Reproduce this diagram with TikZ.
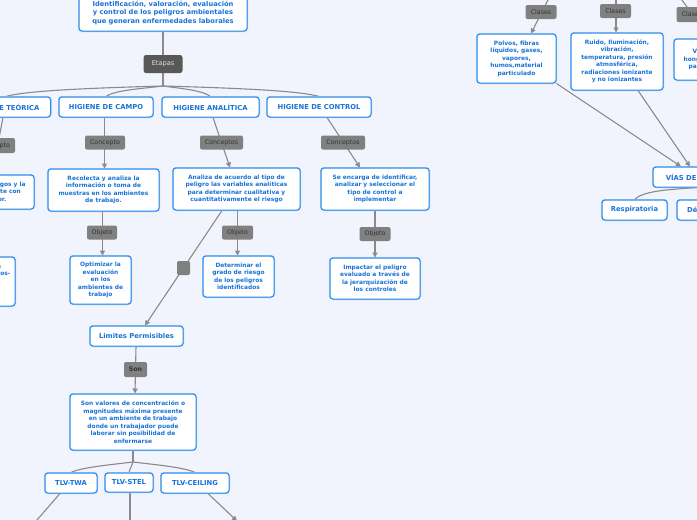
\documentclass[tikz,border=0pt]{standalone}
\usepackage{fontspec}
\setmainfont{DejaVu Sans}
\usetikzlibrary{arrows.meta}
\definecolor{bgc}{RGB}{242,244,253}
\definecolor{bord}{RGB}{45,140,235}
\definecolor{bordlt}{RGB}{150,196,245}
\definecolor{txb}{RGB}{25,115,215}
\definecolor{lnc}{RGB}{138,138,138}
\definecolor{lblf}{RGB}{128,128,128}
\definecolor{lblt}{RGB}{50,50,50}
\definecolor{darkf}{RGB}{88,88,88}
\definecolor{darkt}{RGB}{225,225,225}
\pgfdeclarelayer{back}
\pgfdeclarelayer{bg}
\pgfsetlayers{back,bg,main}
\begin{document}
\begin{tikzpicture}[x=1pt,y=-1pt,
  box/.style={draw=bord, line width=1pt, fill=white, rounded corners=3pt,
    preaction={draw=bordlt, line width=2pt},
    text=txb, align=center, inner sep=0pt,
    font=\fontsize{5.9}{7.5}\selectfont\bfseries},
  head/.style={box, font=\fontsize{6.8}{8}\selectfont\bfseries},
  sz/.style 2 args={minimum width=#1pt, minimum height=#2pt},
  lbl/.style={fill=lblf, rounded corners=2pt, text=lblt, inner sep=0pt,
    font=\fontsize{6.3}{7}\selectfont},
  dk/.style={fill=darkf, rounded corners=2.5pt, text=darkt, inner sep=0pt,
    font=\fontsize{6.6}{7}\selectfont},
  conn/.style={draw=lnc, line width=1.1pt},
  arr/.style={conn, -{Triangle[length=5pt,width=5pt]}}]
\begin{pgfonlayer}{back}
\fill[bgc] (0,0) rectangle (697,520);
\end{pgfonlayer}
\useasboundingbox (0,0) rectangle (697,520);

% ---- left tree ----
\node[box,sz={168}{36},font=\fontsize{6.7}{8.5}\selectfont\bfseries] (title) at (163,13)
  {Identificación, valoración, evaluación\\y control de los peligros ambientales\\que generan enfermedades laborales};
\node[dk,sz={39}{18}] (ep) at (163,64) {Etapas};
\coordinate (j1) at (163,86);

\node[head,sz={89}{20}] (ht) at (6,107) {HIGIENE TEÓRICA};
\node[head,sz={94}{20}] (hcp) at (106,107) {HIGIENE DE CAMPO};
\node[head,sz={97}{20}] (han) at (210.5,107) {HIGIENE ANALÍTICA};
\node[head,sz={104}{20}] (hco) at (319,107) {HIGIENE DE CONTROL};

\node[lbl,sz={40}{15}] (l1) at (-5,145.5) {Concepto};
\node[lbl,sz={40}{14}] (l2) at (105,142.5) {Concepto};
\node[lbl,sz={43}{14}] (l3) at (221.5,142.5) {Conceptos};
\node[lbl,sz={44}{14}] (l4) at (343,142.5) {Conceptos};

\node[box,sz={100}{34}] (t1) at (-16,192) {Identifica los riesgos y la\\relación existente con\\el trabajador.};
\node[box,sz={111}{42}] (t2) at (103.5,190) {Recolecta y analiza la\\información o toma de\\muestras en los ambientes\\de trabajo.};
\node[box,sz={127}{42}] (t3) at (236.5,189) {Analiza de acuerdo al tipo de\\peligro las variables analíticas\\para determinar cualitativa y\\cuantitativamente el riesgo};
\node[box,sz={108}{42}] (t4) at (375,189) {Se encarga de identificar,\\analizar y seleccionar el\\tipo de control a\\implementar};

\node[lbl,sz={30}{14}] (o2) at (102,232.5) {Objeto};
\node[lbl,sz={31}{14}] (o3) at (237.5,232.5) {Objeto};
\node[lbl,sz={31}{14}] (o4) at (375,234) {Objeto};

\node[box,sz={70}{49}] (u1) at (-20,281.5) {Identificar la\\fuente de riesgos-\\químicos,\\físicos y\\biológicos};
\node[box,sz={61}{48}] (u2) at (100.5,280) {Optimizar la\\evaluación\\en los\\ambientes de\\trabajo};
\node[box,sz={71}{41}] (u3) at (238.5,276.5) {Determinar el\\grado de riesgo\\de los peligros\\identificados};
\node[box,sz={90}{41}] (u4) at (375,278.5) {Impactar el peligro\\evaluado a través de\\la jerarquización de\\los controles};

\node[lbl,sz={13}{14}] (sq) at (183.5,268) {};
\node[head,sz={93}{20}] (lp) at (136.5,336) {Limites Permisibles};
\node[lbl,sz={23}{15},font=\fontsize{6.3}{7}\selectfont\bfseries] (son) at (135.5,369.5) {Son};
\node[box,sz={126}{56}] (sv) at (133,422) {Son valores de concentración o\\magnitudes máxima presente\\en un ambiente de trabajo\\donde un trabajador puede\\laborar sin posibilidad de\\enfermarse};
\coordinate (j2) at (133,462);
\node[head,sz={52}{20}] (tw) at (71,483) {TLV-TWA};
\node[head,sz={48}{19}] (ts) at (129,482.5) {TLV-STEL};
\node[head,sz={68}{20}] (tc) at (195,483) {TLV-CEILING};
\coordinate (b1) at (30,528);
\coordinate (b2) at (130,530);
\coordinate (b3) at (237,521);

% ---- right tree ----
\coordinate (p1) at (554,-12);
\coordinate (p2) at (616,-12);
\coordinate (p3) at (679,-4);
\node[lbl,sz={31}{14}] (k1) at (541,12) {Clases};
\node[lbl,sz={31}{14}] (k2) at (615.5,11) {Clases};
\node[lbl,sz={31}{15}] (k3) at (692,14.5) {Clases};
\node[box,sz={79}{49}] (A) at (516.5,58.5) {Polvos, fibras\\líquidos, gases,\\vapores,\\humos,material\\particulado};
\node[box,sz={92}{57}] (B) at (617,61.5) {Ruido, Iluminación,\\vibración,\\temperatura, presión\\atmosférica,\\radiaciones ionizante\\y no ionizantes};
\node[box,sz={92}{41}] (C) at (720,59.5) {Virus, bacterias,\\hongos, protozoarios,\\parásitos, insectos};
\node[head,sz={93}{20}] (V) at (699.5,177) {VÍAS DE INGRESO};
\node[head,sz={65}{20}] (R) at (634.5,210) {Respiratoria};
\node[head,sz={52}{20}] (D) at (703,210) {Dérmica};

\begin{pgfonlayer}{bg}
\draw[conn] (title.south) -- (ep.north);
\draw[conn] (ep.south) -- (j1);
\draw[conn] (j1) .. controls +(-70,2) and +(20,-6) .. (ht.north);
\draw[conn] (j1) .. controls +(-25,3) and +(8,-6) .. (hcp.north);
\draw[conn] (j1) .. controls +(22,3) and +(-8,-6) .. (han.north);
\draw[conn] (j1) .. controls +(70,2) and +(-20,-6) .. (hco.north);

\draw[arr] ([xshift=-3pt]ht.south) -- ([xshift=8pt]t1.north);
\draw[arr] ([xshift=-1.5pt]hcp.south) -- ([xshift=1pt]t2.north);
\draw[arr] ([xshift=2.5pt]han.south) -- ([xshift=-6.5pt]t3.north);
\draw[arr] ([xshift=8pt]hco.south) -- ([xshift=-15pt]t4.north);

\draw[arr] (t1.south) -- (u1.north);
\draw[arr] ([xshift=-1pt]t2.south) -- ([xshift=2pt]u2.north);
\draw[arr] ([xshift=1pt]t3.south) -- ([xshift=-1pt]u3.north);
\draw[arr] (t4.south) -- (u4.north);

\draw[arr] ([xshift=-14.5pt]t3.south) -- ([xshift=8.5pt]lp.north);
\draw[arr] ([xshift=-0.5pt]lp.south) -- ([xshift=2pt]sv.north);

\draw[conn] (sv.south) -- (j2);
\draw[conn] (j2) .. controls +(-25,3) and +(10,-5) .. (tw.north);
\draw[conn] (j2) .. controls +(-1,3) and +(1,-4) .. (ts.north);
\draw[conn] (j2) .. controls +(25,3) and +(-10,-5) .. (tc.north);
\draw[arr] ([xshift=-11pt]tw.south) -- (b1);
\draw[arr] ([xshift=1pt]ts.south) -- (b2);
\draw[arr] ([xshift=13pt]tc.south) -- (b3);

\draw[arr] (p1) -- ([xshift=14.5pt]A.north);
\draw[arr] (p2) -- ([xshift=-1pt]B.north);
\draw[arr] (p3) -- ([xshift=-10pt]C.north);
\draw[arr] (A.south east) -- ([xshift=-18.5pt]V.north);
\draw[arr] ([xshift=21pt]B.south) -- ([xshift=-9.5pt]V.north);
\draw[conn] (V.south) .. controls +(-35,2) and +(8,-8) .. (R.north);
\draw[conn] (V.south) .. controls +(1,5) and +(-1,-5) .. (D.north);
\end{pgfonlayer}
\end{tikzpicture}
\end{document}
